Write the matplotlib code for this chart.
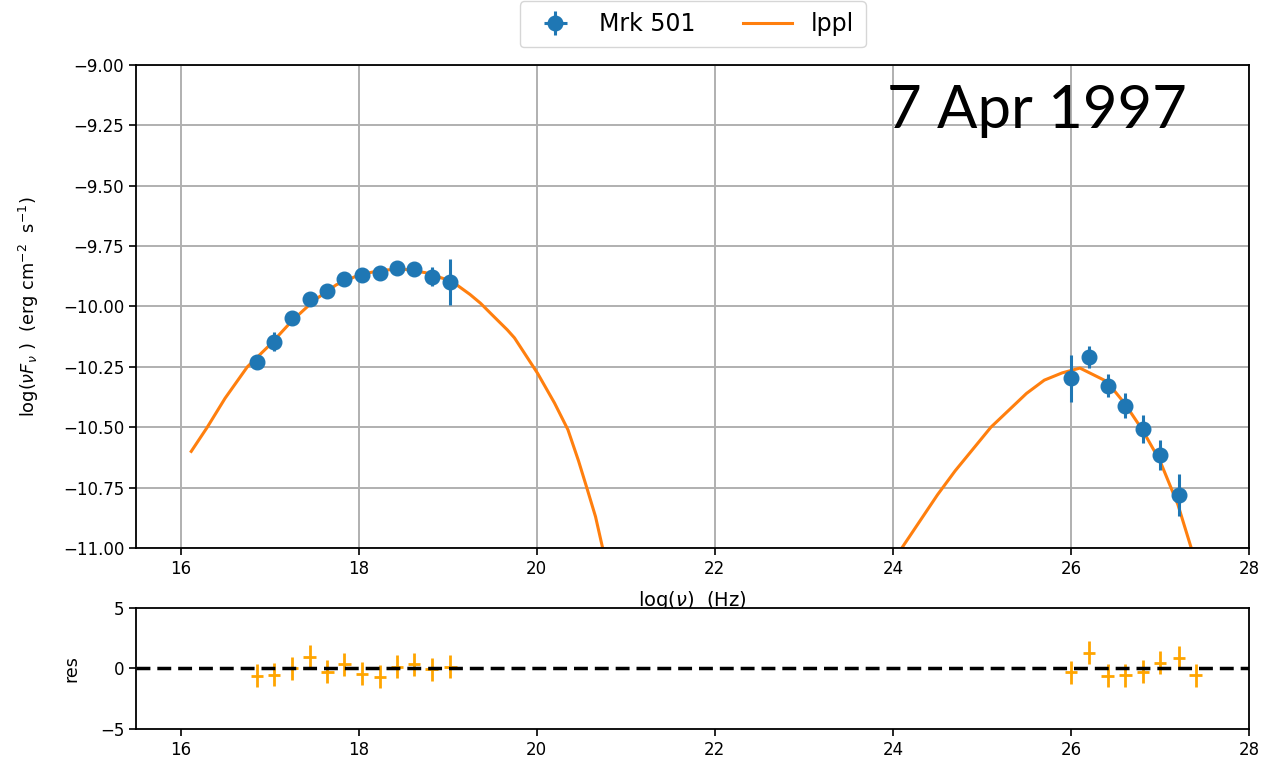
import numpy as np
import matplotlib
matplotlib.use("Agg")
import matplotlib.pyplot as plt

# data points (log nu, log nuFnu)
x_data = [16.86, 17.05, 17.25, 17.45, 17.65, 17.84, 18.04, 18.24, 18.43, 18.62, 18.82, 19.03,
          26.00, 26.20, 26.41, 26.61, 26.81, 27.00, 27.21, 27.40]
y_data = [-10.229, -10.146, -10.046, -9.970, -9.936, -9.887, -9.870, -9.860, -9.839, -9.845, -9.877, -9.900,
          -10.297, -10.208, -10.328, -10.411, -10.507, -10.615, -10.780, -11.150]
y_err = [0.02, 0.04, 0.02, 0.015, 0.015, 0.015, 0.015, 0.015, 0.02, 0.015, 0.04, 0.095,
         0.097, 0.045, 0.048, 0.052, 0.057, 0.064, 0.088, 0.12]
x_err = 0.07

# residuals
res = [-0.6, -0.53, 0.0, 0.96, -0.28, 0.36, -0.42, -0.7, 0.14, 0.33, -0.06, 0.14,
       -0.33, 1.3, -0.6, -0.55, -0.28, 0.47, 0.88, -0.55]
res_err = 0.95

# lppl model curve (two visible branches, nan gap between them)
x_model = [16.12, 16.3, 16.5, 16.75, 17.0, 17.25, 17.5, 17.75, 18.0, 18.25, 18.5, 18.75,
           19.0, 19.1, 19.25, 19.37, 19.5, 19.67, 19.75, 20.01, 20.2, 20.35, 20.47, 20.57,
           20.66, 20.74, 20.9,
           22.5,
           23.9, 24.1, 24.3, 24.5, 24.7, 24.9, 25.1, 25.3, 25.5, 25.7, 25.9, 26.1,
           26.4, 26.6, 26.8, 27.0, 27.2, 27.35, 27.5]
y_model = [-10.60, -10.50, -10.38, -10.25, -10.16, -10.06, -9.975, -9.91, -9.87, -9.85, -9.845, -9.86,
           -9.89, -9.91, -9.95, -9.987, -10.035, -10.097, -10.13, -10.277, -10.40, -10.51, -10.64, -10.76,
           -10.87, -11.0, -11.25,
           np.nan,
           -11.3, -11.0, -10.89, -10.78, -10.68, -10.59, -10.50, -10.43, -10.36, -10.305, -10.275, -10.255,
           -10.31, -10.40, -10.51, -10.64, -10.82, -11.0, -11.25]

main_yticks = [-9.0, -9.25, -9.5, -9.75, -10.0, -10.25, -10.5, -10.75, -11.0]
xticks = [16, 18, 20, 22, 24, 26, 28]
res_yticks = [-5, 0, 5]

fig = plt.figure(figsize=(12.63, 7.69), dpi=100)
ax = fig.add_axes([0.1077, 0.2874, 0.8813, 0.6281])
axr = fig.add_axes([0.1077, 0.052, 0.8813, 0.1574])

# main panel
eb = ax.errorbar(x_data, y_data, xerr=x_err, yerr=y_err, fmt='o', color='#1f77b4',
                 ms=10.5, elinewidth=2.2, capsize=0, zorder=3)
ln, = ax.plot(x_model, y_model, color='#ff7f0e', lw=2.2, zorder=2)
ax.set_xlim(15.5, 28)
ax.set_ylim(-11, -9)
ax.set_yticks(main_yticks)
ax.set_xticks(xticks)
ax.grid(True, color='#b0b0b0', lw=1.4)
ax.tick_params(labelsize=12, width=1.2, length=5)
ax.set_xlabel(r'log($\nu$)  (Hz)', fontsize=14, labelpad=8)
ax.set_ylabel(r'log($\nu F_{\nu}$ )  (erg cm$^{-2}$  s$^{-1}$)', fontsize=12.8, labelpad=16)
for s in ax.spines.values():
    s.set_linewidth(1.3)
ax.text(0.675, 0.87, '7 Apr 1997', transform=ax.transAxes, fontsize=43,
        family='Lato', ha='left', va='baseline')
ax.legend([eb, ln], ['Mrk 501', 'lppl'], ncol=2, loc='lower center',
          bbox_to_anchor=(0.5, 1.012), fontsize=17, handlelength=2.1, columnspacing=2.0,
          borderpad=0.47)

# residual panel
axr.errorbar(x_data, res, xerr=x_err, yerr=res_err, fmt='none', ecolor='orange',
             elinewidth=2, capsize=0)
axr.axhline(0, color='black', ls='--', lw=2.5, dashes=(4, 2))
axr.set_xlim(15.5, 28)
axr.set_ylim(-5, 5)
axr.set_yticks(res_yticks)
axr.set_xticks(xticks)
axr.tick_params(labelsize=12, width=1.2, length=5)
axr.set_ylabel('res', fontsize=12.5, labelpad=14)
for s in axr.spines.values():
    s.set_linewidth(1.3)

fig.savefig('out.png', dpi=100)
